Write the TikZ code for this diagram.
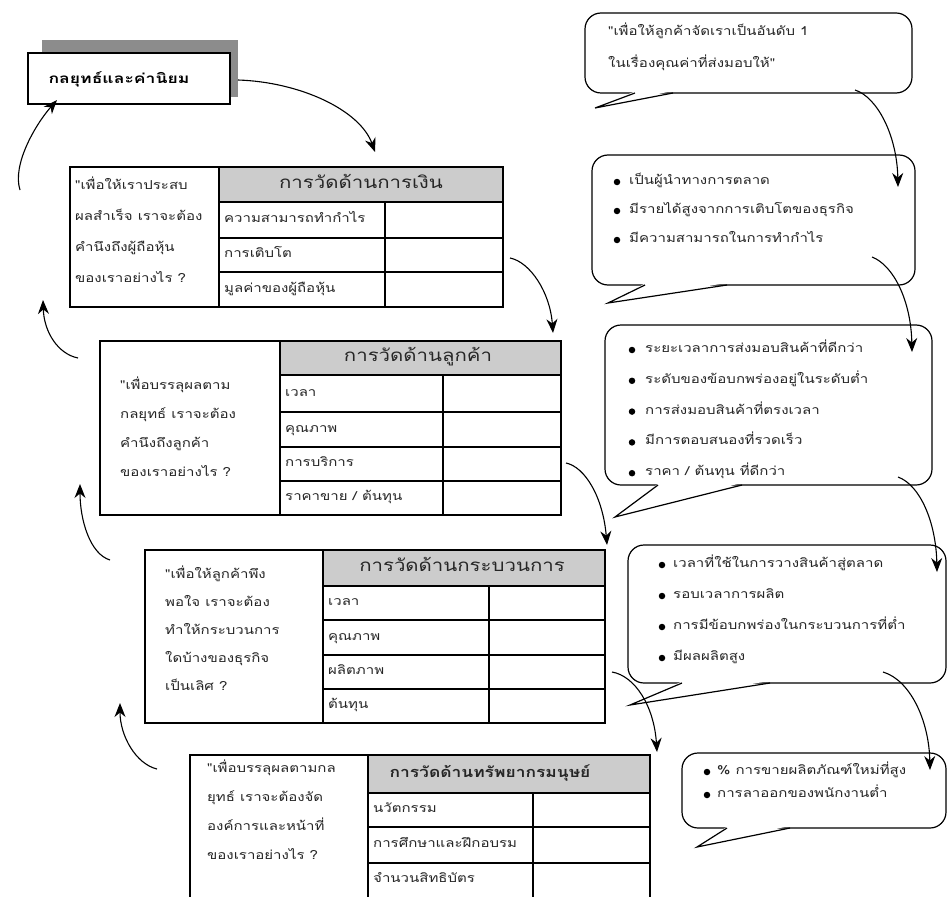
\documentclass[tikz,border=0pt]{standalone}
\usepackage{fontspec}
\newfontfamily\thai[Script=Thai,FakeStretch=1.22]{Loma}
\newfontfamily\thaihead[Script=Thai,FakeStretch=1.2]{Loma}
\newfontfamily\thaititle[Script=Thai,FakeStretch=1.3]{Loma}
\usetikzlibrary{arrows.meta}
\begin{document}
\begin{tikzpicture}[x=1pt,y=-1pt,
  frame/.style={line width=1.4pt, line join=miter},
  rule/.style={line width=1.2pt},
  headfill/.style={fill=black!20},
  txt/.style={anchor=west, inner sep=0pt, text height=8pt, text depth=3pt, text=black!85, font=\thai\fontsize{12.3}{14}\selectfont},
  headtxt/.style={inner sep=0pt, text height=10pt, text depth=3.5pt, text=black!85, font=\thaihead\fontsize{17}{19}\selectfont},
  bubble/.style={line width=1.2pt, rounded corners=16pt},
  tail/.style={line width=1.2pt, line join=miter},
  dot/.style={circle, fill=black, inner sep=0pt, minimum size=6.5pt},
  flow/.style={line width=1.1pt, -{Stealth[length=14pt, width=11pt]}},
]
\useasboundingbox (0,0) rectangle (949,896);
\fill[white] (0,0) rectangle (949,896);

% ---------- title box with shadow ----------
\fill[black!45] (42,40) rectangle (238,97);
\draw[frame, fill=white] (28,53) rectangle (230,104);
\node[inner sep=0pt, font=\thaititle\bfseries\fontsize{13.5}{15}\selectfont] (title) at (119,79) {กลยุทธ์และค่านิยม};

% ---------- financial table ----------
\fill[headfill] (219,167) rectangle (503,202);
\draw[rule] (219,167) -- (219,307);
\draw[rule] (219,202) -- (503,202) (219,238) -- (503,238) (219,272) -- (503,272);
\draw[rule] (385,202) -- (385,307);
\draw[frame] (70,167) rectangle (503,307);
\node[headtxt] (fin) at (361,185) {การวัดด้านการเงิน};
\node[txt] (fin1) at (224,220) {ความสามารถทำกำไร};
\node[txt] (fin2) at (224,255) {การเติบโต};
\node[txt] (fin3) at (224,290) {มูลค่าของผู้ถือหุ้น};
\foreach \t [count=\i] in {"เพื่อให้เราประสบ,ผลสำเร็จ เราจะต้อง,คำนึงถึงผู้ถือหุ้น,ของเราอย่างไร ?}
  \node[txt] (finq\i) at (75,{187+31*(\i-1)}) {\t};

% ---------- customer table ----------
\fill[headfill] (280,341) rectangle (561,375);
\draw[rule] (280,341) -- (280,515);
\draw[rule] (280,375) -- (561,375) (280,412) -- (561,412) (280,447) -- (561,447) (280,481) -- (561,481);
\draw[rule] (443,375) -- (443,515);
\draw[frame] (100,341) rectangle (561,515);
\node[headtxt] (cus) at (418,358) {การวัดด้านลูกค้า};
\node[txt] (cus1) at (285,394) {เวลา};
\node[txt] (cus2) at (285,430) {คุณภาพ};
\node[txt] (cus3) at (285,464) {การบริการ};
\node[txt] (cus4) at (285,498) {ราคาขาย / ต้นทุน};
\foreach \t [count=\i] in {"เพื่อบรรลุผลตาม,กลยุทธ์ เราจะต้อง,คำนึงถึงลูกค้า,ของเราอย่างไร ?}
  \node[txt] (cusq\i) at (120,{387+29*(\i-1)}) {\t};

% ---------- process table ----------
\fill[headfill] (323,550) rectangle (605,586);
\draw[rule] (323,550) -- (323,723);
\draw[rule] (323,586) -- (605,586) (323,620) -- (605,620) (323,655) -- (605,655) (323,689) -- (605,689);
\draw[rule] (489,586) -- (489,723);
\draw[frame] (145,550) rectangle (605,723);
\node[headtxt] (pro) at (462,568) {การวัดด้านกระบวนการ};
\node[txt] (pro1) at (328,603) {เวลา};
\node[txt] (pro2) at (328,638) {คุณภาพ};
\node[txt] (pro3) at (328,672) {ผลิตภาพ};
\node[txt] (pro4) at (328,706) {ต้นทุน};
\foreach \t [count=\i] in {"เพื่อให้ลูกค้าพึง,พอใจ เราจะต้อง,ทำให้กระบวนการ,ใดบ้างของธุรกิจ,เป็นเลิศ ?}
  \node[txt] (proq\i) at (165,{576+28*(\i-1)}) {\t};

% ---------- human resources table ----------
\fill[headfill] (368,755) rectangle (650,793);
\draw[rule] (368,755) -- (368,899);
\draw[rule] (368,793) -- (650,793) (368,827) -- (650,827) (368,863) -- (650,863);
\draw[rule] (533,793) -- (533,899);
\draw[frame] (190,755) rectangle (650,899);
\node[headtxt, font=\thaihead\bfseries\fontsize{14.5}{17}\selectfont] (hrm) at (490,774) {การวัดด้านทรัพยากรมนุษย์};
\node[txt] (hrm1) at (373,810) {นวัตกรรม};
\node[txt] (hrm2) at (373,845) {การศึกษาและฝึกอบรม};
\node[txt] (hrm3) at (373,880) {จำนวนสิทธิบัตร};
\foreach \t [count=\i] in {"เพื่อบรรลุผลตามกล,ยุทธ์ เราจะต้องจัด,องค์การและหน้าที่,ของเราอย่างไร ?}
  \node[txt] (hrmq\i) at (207,{770+29*(\i-1)}) {\t};

% ---------- callout bubbles ----------
% bubble 1
\draw[bubble] (585,13) rectangle (912,93);
\fill[white] (636,91) -- (595,108) -- (672,91) -- cycle;
\draw[tail] (635,93) -- (595,108) -- (673,93);
\node[txt] (v1) at (608,33) {"เพื่อให้ลูกค้าจัดเราเป็นอันดับ 1};
\node[txt] (v2) at (608,65) {ในเรื่องคุณค่าที่ส่งมอบให้"};

% bubble 2
\draw[bubble] (592,155) rectangle (915,285);
\fill[white] (646,283) -- (608,303) -- (726,283) -- cycle;
\draw[tail] (645,285) -- (608,303) -- (727,285);
\foreach \t [count=\i] in {เป็นผู้นำทางการตลาด,มีรายได้สูงจากการเติบโตของธุรกิจ,มีความสามารถในการทำกำไร} {
  \node[dot] (fd\i) at (617,{182+29*(\i-1)}) {};
  \node[txt] (ft\i) at (629,{182+29*(\i-1)}) {\t};
}

% bubble 3
\draw[bubble] (605,325) rectangle (932,485);
\fill[white] (659,483) -- (615,517) -- (741,483) -- cycle;
\draw[tail] (658,485) -- (615,517) -- (742,485);
\foreach \t [count=\i] in {ระยะเวลาการส่งมอบสินค้าที่ดีกว่า,ระดับของข้อบกพร่องอยู่ในระดับต่ำ,การส่งมอบสินค้าที่ตรงเวลา,มีการตอบสนองที่รวดเร็ว,ราคา / ต้นทุน ที่ดีกว่า} {
  \node[dot] (cd\i) at (632,{350+30.8*(\i-1)}) {};
  \node[txt] (ct\i) at (645,{350+30.8*(\i-1)}) {\t};
}

% bubble 4
\draw[bubble] (628,545) rectangle (946,683);
\fill[white] (683,681) -- (630,705) -- (769,681) -- cycle;
\draw[tail] (682,683) -- (630,705) -- (770,683);
\foreach \t [count=\i] in {เวลาที่ใช้ในการวางสินค้าสู่ตลาด,รอบเวลาการผลิต,การมีข้อบกพร่องในกระบวนการที่ต่ำ,มีผลผลิตสูง} {
  \node[dot] (pd\i) at (662,{565+31*(\i-1)}) {};
  \node[txt] (pt\i) at (673,{565+31*(\i-1)}) {\t};
}

% bubble 5
\draw[bubble] (682,753) rectangle (946,828);
\fill[white] (728,826) -- (697,847) -- (789,826) -- cycle;
\draw[tail] (727,828) -- (697,847) -- (790,828);
\foreach \t [count=\i] in {\% การขายผลิตภัณฑ์ใหม่ที่สูง,การลาออกของพนักงานต่ำ} {
  \node[dot] (hd\i) at (707,{772+23*(\i-1)}) {};
  \node[txt] (ht\i) at (717,{772+23*(\i-1)}) {\t};
}

% ---------- connector end points ----------
\coordinate (a0) at (238,80);   \coordinate (a1) at (375,152);
\coordinate (b0) at (510,258);  \coordinate (b1) at (553,333);
\coordinate (c0) at (566,463);  \coordinate (c1) at (607,545);
\coordinate (d0) at (612,672);  \coordinate (d1) at (657,752);
\coordinate (e0) at (855,90);   \coordinate (e1) at (898,187);
\coordinate (f0) at (872,257);  \coordinate (f1) at (912,352);
\coordinate (g0) at (898,477);  \coordinate (g1) at (937,572);
\coordinate (h0) at (883,672);  \coordinate (h1) at (930,770);
\coordinate (k0) at (20,190);   \coordinate (k1) at (57,100);
\coordinate (m0) at (78,358);   \coordinate (m1) at (43,300);
\coordinate (n0) at (110,560);  \coordinate (n1) at (80,484);
\coordinate (p0) at (157,769);  \coordinate (p1) at (120,703);

% downward flow between the tables
\draw[flow] (a0) .. controls (300,82) and (360,110) .. (a1);
\draw[flow] (b0) .. controls (530,262) and (550,292) .. (b1);
\draw[flow] (c0) .. controls (585,467) and (603,497) .. (c1);
\draw[flow] (d0) .. controls (635,676) and (654,706) .. (d1);
% downward flow between the bubbles
\draw[flow] (e0) .. controls (877,97) and (897,135) .. (e1);
\draw[flow] (f0) .. controls (893,265) and (911,300) .. (f1);
\draw[flow] (g0) .. controls (920,485) and (936,522) .. (g1);
\draw[flow] (h0) .. controls (910,680) and (929,720) .. (h1);
% upward flow on the left
\draw[flow] (k0) .. controls (12,165) and (35,125) .. (k1);
\draw[flow] (m0) .. controls (58,354) and (44,332) .. (m1);
\draw[flow] (n0) .. controls (90,554) and (80,520) .. (n1);
\draw[flow] (p0) .. controls (136,764) and (120,736) .. (p1);
\end{tikzpicture}
\end{document}
